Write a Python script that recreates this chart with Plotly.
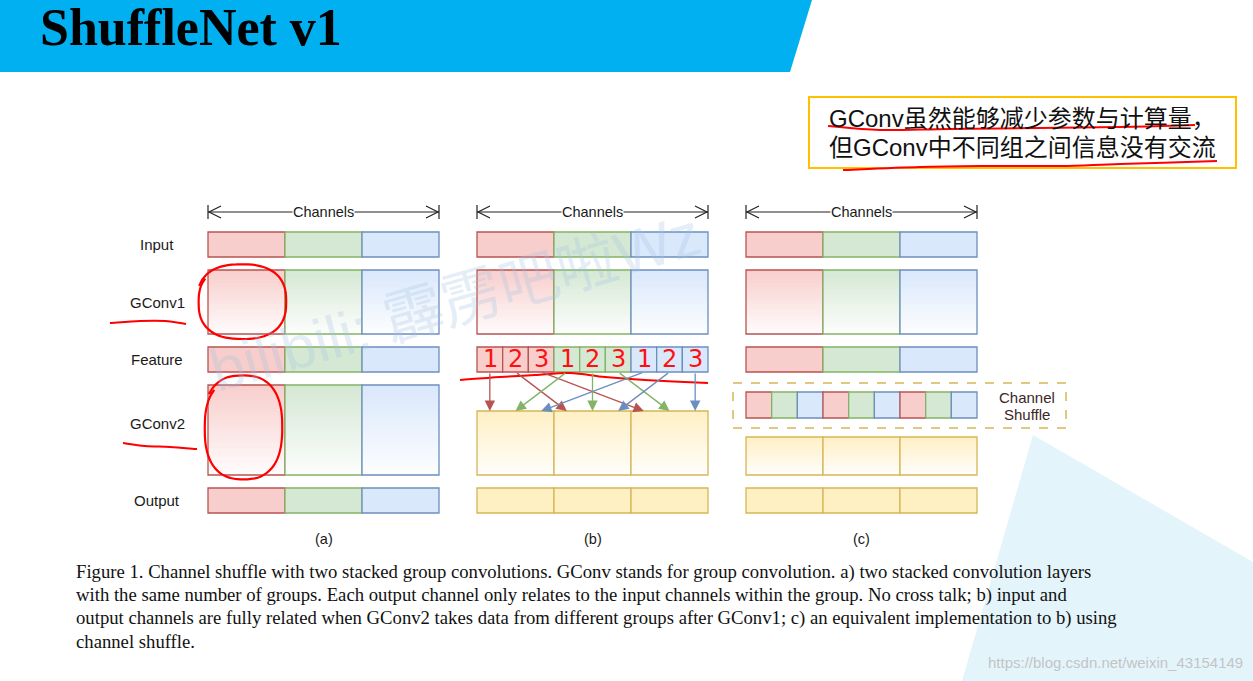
import math
import plotly.graph_objects as go

W, H = 1253, 681

# ---------------- data ----------------
title = "ShuffleNet v1"
note_lines = ["GConv虽然能够减少参数与计算量，", "但GConv中不同组之间信息没有交流"]
row_labels = ["Input", "GConv1", "Feature", "GConv2", "Output"]
panel_labels = ["(a)", "(b)", "(c)"]
groups = ["red", "green", "blue"]
fills = {"red": "#f8cecc", "green": "#d5e8d4", "blue": "#dae8fc", "yellow": "#fff0c4"}
lines = {"red": "#b85450", "green": "#82b366", "blue": "#6c8ebf", "yellow": "#d6b656"}
feature_b_groups = [0, 0, 0, 1, 1, 1, 2, 2, 2]
shuffle_groups = [0, 1, 2, 0, 1, 2, 0, 1, 2]
handwritten_digits = ["1", "2", "3", "1", "2", "3", "1", "2", "3"]
channels_label = "Channels"
shuffle_label = ["Channel", "Shuffle"]
caption_lines = [
    "Figure 1. Channel shuffle with two stacked group convolutions. GConv stands for group convolution. a) two stacked convolution layers",
    "with the same number of groups. Each output channel only relates to the input channels within the group. No cross talk; b) input and",
    "output channels are fully related when GConv2 takes data from different groups after GConv1; c) an equivalent implementation to b) using",
    "channel shuffle.",
]
watermark = "bilibili: 霹雳吧啦Wz"
source_url = "https://blog.csdn.net/weixin_43154149"

# ---------------- layout constants ----------------
PX = [208, 477, 746]
PW = 231
ROW = {"Input": (232, 257), "GConv1": (270, 334), "Feature": (347, 372),
       "GConv2": (385, 475), "Output": (488, 513)}
GCONV2_B = (411, 475)
SHUF_C = (392, 418)
GCONV2_C = (437, 475)
LABEL_X = 157
LABEL_Y = {"Input": 244, "GConv1": 302, "Feature": 359, "GConv2": 423, "Output": 500}

shapes = []
annotations = []


def hex2rgb(h):
    h = h.lstrip("#")
    return tuple(int(h[i:i + 2], 16) for i in (0, 2, 4))


def rect(x0, y0, x1, y1, fill, line, width=1.3, dash=None, layer="above"):
    ln = dict(color=line, width=width) if line else dict(width=0)
    if dash:
        ln["dash"] = dash
    shapes.append(dict(type="rect", xref="x", yref="y", x0=x0, y0=y0, x1=x1, y1=y1,
                       fillcolor=fill, line=ln, layer=layer))


def grad_rect(x0, y0, x1, y1, key, n=30):
    r, g, b = hex2rgb(fills[key])
    h = (y1 - y0) / n
    for i in range(n):
        t = (i + 0.5) / n * 0.95
        c = "rgb(%d,%d,%d)" % (r + (255 - r) * t, g + (255 - g) * t, b + (255 - b) * t)
        shapes.append(dict(type="rect", xref="x", yref="y", x0=x0, x1=x1,
                           y0=y0 + i * h, y1=y0 + (i + 1) * h + 0.6,
                           fillcolor=c, line=dict(width=0), layer="above"))
    rect(x0, y0, x1, y1, "rgba(0,0,0,0)", lines[key])


def row_cells(px, y, keys, gradient=False):
    n = len(keys)
    cw = PW / n
    for i, k in enumerate(keys):
        x0, x1 = px + i * cw, px + (i + 1) * cw
        if gradient:
            grad_rect(x0, y[0], x1, y[1], k)
        else:
            rect(x0, y[0], x1, y[1], fills[k], lines[k])


def smooth(pts):
    n = len(pts)
    d = "M %.1f,%.1f" % pts[0]
    for i in range(n - 1):
        p0 = pts[i - 1] if i > 0 else pts[i]
        p1, p2 = pts[i], pts[i + 1]
        p3 = pts[i + 2] if i + 2 < n else pts[i + 1]
        c1 = (p1[0] + (p2[0] - p0[0]) / 6, p1[1] + (p2[1] - p0[1]) / 6)
        c2 = (p2[0] - (p3[0] - p1[0]) / 6, p2[1] - (p3[1] - p1[1]) / 6)
        d += " C %.1f,%.1f %.1f,%.1f %.1f,%.1f" % (c1 + c2 + p2)
    return d


def pen(pts, color="#ff0000", width=2.2):
    shapes.append(dict(type="path", xref="x", yref="y", path=smooth(pts),
                       line=dict(color=color, width=width), layer="above"))


def loop(cx, cy, rx, ry, start, sweep, r0, r1, sq=0.8, steps=40):
    pts = []
    for i in range(steps + 1):
        f = i / steps
        a = math.radians(start + sweep * f)
        s = r0 + (r1 - r0) * f
        c, si = math.cos(a), math.sin(a)
        x = cx + rx * s * math.copysign(abs(c) ** sq, c)
        y = cy + ry * s * math.copysign(abs(si) ** sq, si)
        pts.append((x, y))
    return pts


def text(x, y, s, size=15, color="#1a1a1a", family="Liberation Sans, Arial, sans-serif",
         xanchor="center", **kw):
    annotations.append(dict(x=x, y=y, xref="x", yref="y", text=s, showarrow=False,
                            xanchor=xanchor, yanchor="middle",
                            font=dict(size=size, color=color, family=family), **kw))


# ---------------- background decorations ----------------
shapes.append(dict(type="path", xref="x", yref="y", path="M 1033,435 L 1253,562 L 1253,681 L 962,681 Z",
                   fillcolor="#e3f4fb", line=dict(width=0), layer="below"))
shapes.append(dict(type="path", xref="x", yref="y", path="M 0,0 L 812,0 L 790,72 L 0,72 Z",
                   fillcolor="#00b0f0", line=dict(width=0), layer="below"))
text(39, 27.5, "<b>%s</b>" % title, size=52, color="#000000",
     family="Liberation Serif, Times New Roman, serif", xanchor="left", borderpad=0)

# note box
rect(809, 97, 1236, 168, "rgba(0,0,0,0)", "#ffc000", width=2)
text(827, 118, note_lines[0], size=24, color="#111111",
     family="Liberation Sans, Noto Sans CJK SC, sans-serif", xanchor="left")
text(827, 147, note_lines[1], size=24, color="#111111",
     family="Liberation Sans, Noto Sans CJK SC, sans-serif", xanchor="left")
pen([(828, 126), (880, 130), (950, 129), (1040, 128), (1120, 127), (1195, 125)], width=2)
pen([(843, 170), (920, 167), (990, 166), (1060, 166), (1120, 164), (1217, 161)], width=2)

# ---------------- panels ----------------
for p, px in enumerate(PX):
    x1 = px + PW
    ay = 212
    shapes.append(dict(type="line", xref="x", yref="y", x0=px, x1=x1, y0=ay, y1=ay,
                       line=dict(color="#222222", width=1.2)))
    for xe, sgn in ((px, 1), (x1, -1)):
        shapes.append(dict(type="line", xref="x", yref="y", x0=xe, x1=xe, y0=ay - 7, y1=ay + 7,
                           line=dict(color="#222222", width=1.2)))
        shapes.append(dict(type="path", xref="x", yref="y",
                           path="M %.1f,%.1f L %.1f,%.1f L %.1f,%.1f" % (xe + sgn * 13, ay - 6, xe + sgn * 1, ay, xe + sgn * 13, ay + 6),
                           line=dict(color="#222222", width=1.2)))
    text(px + PW / 2, ay, channels_label, size=14.5, bgcolor="#ffffff", borderpad=0)

    row_cells(px, ROW["Input"], groups)
    row_cells(px, ROW["GConv1"], groups, gradient=True)
    if p == 1:
        row_cells(px, ROW["Feature"], [groups[g] for g in feature_b_groups])
        row_cells(px, GCONV2_B, ["yellow"] * 3, gradient=True)
        row_cells(px, ROW["Output"], ["yellow"] * 3)
    elif p == 2:
        row_cells(px, ROW["Feature"], groups)
        row_cells(px, SHUF_C, [groups[g] for g in shuffle_groups])
        row_cells(px, GCONV2_C, ["yellow"] * 3, gradient=True)
        row_cells(px, ROW["Output"], ["yellow"] * 3)
    else:
        row_cells(px, ROW["Feature"], groups)
        row_cells(px, ROW["GConv2"], groups, gradient=True)
        row_cells(px, ROW["Output"], groups)
    text(px + PW / 2, 539, panel_labels[p], size=14.5)

for lab in row_labels:
    text(LABEL_X, LABEL_Y[lab], lab, size=15)

# (b) arrows feature -> GConv2 groups
px = PX[1]
cw9, cw3 = PW / 9, PW / 3
for i, g in enumerate(feature_b_groups):
    k = i % 3
    sx = px + (i + 0.5) * cw9
    ex = px + k * cw3 + (g + 0.5) * cw3 / 3
    annotations.append(dict(x=ex, y=GCONV2_B[0], ax=sx, ay=ROW["Feature"][1], xref="x", yref="y",
                            axref="x", ayref="y", text="", showarrow=True, arrowhead=2,
                            arrowsize=1.6, arrowwidth=1.3, arrowcolor=lines[groups[g]]))

# (c) channel shuffle box
rect(733, 383, 1066, 428, "rgba(0,0,0,0)", "#d6b656", width=1.5, dash="dash")
text(1027, 397, shuffle_label[0], size=15, color="#3d2626")
text(1027, 414, shuffle_label[1], size=15, color="#3d2626")

# ---------------- handwritten red marks ----------------
for i, d in enumerate(handwritten_digits):
    text(px + (i + 0.5) * cw9 + (1 if i % 3 == 0 else 0), 359, d, size=24, color="#ff1010",
         family="DejaVu Sans, sans-serif")
pen([(460, 380), (500, 377), (535, 375), (570, 373), (605, 377), (645, 380), (708, 383)], width=2)
pen(loop(242, 302, 45, 38, 200, 375, 1.0, 0.96), width=2.2)
pen(loop(243, 428, 40, 53, 215, 370, 1.0, 0.95), width=2.2)
pen([(110, 323), (140, 321), (165, 321), (186, 324)], width=2)
pen([(123, 443), (145, 446), (170, 447), (197, 449)], width=2)

# watermark
text(455, 302, watermark, size=60, color="rgba(160,195,225,0.28)",
     family="Liberation Sans, Noto Sans CJK SC, sans-serif", textangle=-16)

# caption
for j, ln in enumerate(caption_lines):
    text(74, 572 + 23 * j, ln, size=18.7, color="#111111",
         family="Liberation Serif, Times New Roman, serif", xanchor="left")

text(1245, 662, source_url, size=15, color="rgba(190,190,190,0.9)", xanchor="right")

fig = go.Figure()
fig.update_layout(
    width=W, height=H, margin=dict(l=0, r=0, t=0, b=0),
    paper_bgcolor="#ffffff", plot_bgcolor="#ffffff",
    xaxis=dict(range=[0, W], visible=False, fixedrange=True),
    yaxis=dict(range=[H, 0], visible=False, fixedrange=True),
    shapes=shapes, annotations=annotations, showlegend=False,
)
fig.write_html("out.html", config={"displayModeBar": False},
               post_script="document.body.style.margin='0px';document.body.style.overflow='hidden';")
